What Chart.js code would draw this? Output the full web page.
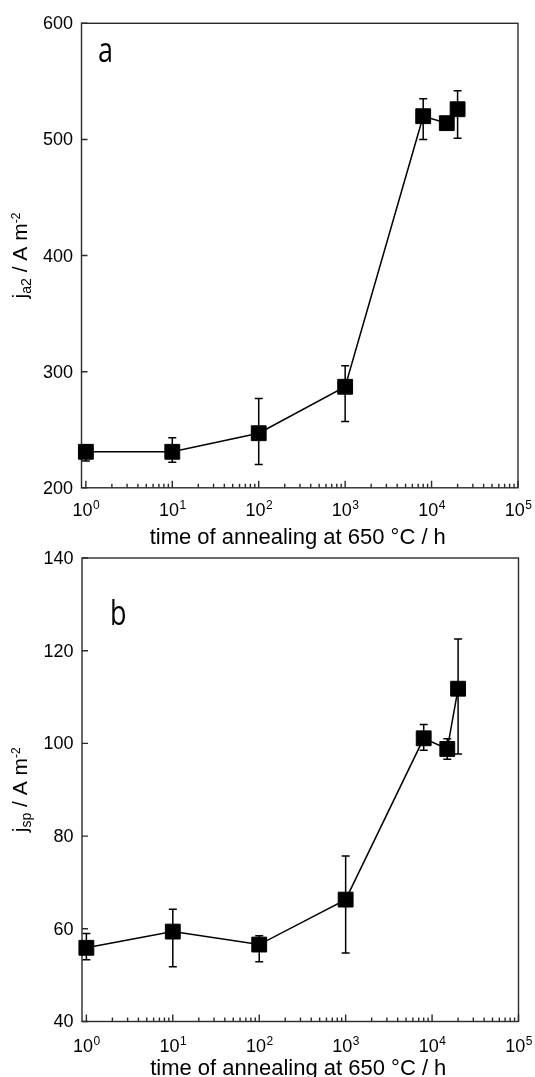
<!DOCTYPE html>
<html>
<head>
<meta charset="utf-8">
<script src="https://cdn.jsdelivr.net/npm/chart.js@4.4.1/dist/chart.umd.min.js"></script>
<style>
html,body{margin:0;padding:0;background:#fff;width:535px;height:1077px;overflow:hidden;}
#w1{position:absolute;left:0;top:0;width:535px;height:560px;}
#w2{position:absolute;left:0;top:537px;width:535px;height:540px;}
</style>
</head>
<body>
<div id="w1"><canvas id="c1"></canvas></div>
<div id="w2"><canvas id="c2"></canvas></div>
<script>
// ---- data ----
const annealTimes = [1, 10, 100, 1000, 8000, 15000, 20000];
const ja2Values   = [231, 231, 247, 287, 520, 514, 526];
const ja2ErrPlus  = [6, 12, 30, 18, 15, 0, 16];
const ja2ErrMinus = [8, 9, 27, 30, 20, 0, 25];
const jspValues   = [55.9, 59.4, 56.6, 66.3, 101.1, 98.8, 111.8];
const jspErrPlus  = [3.1, 4.8, 1.9, 9.4, 3.0, 2.2, 10.7];
const jspErrMinus = [2.6, 7.6, 3.7, 11.5, 2.6, 2.2, 14.1];
const xTickExponents = [0, 1, 2, 3, 4, 5];
const xMinorMultipliers = [2, 3, 4, 5, 6, 7, 8, 9];
const yTicksA = [200, 300, 400, 500, 600];
const yTicksB = [40, 60, 80, 100, 120, 140];
const xAxisTitle = 'time of annealing at 650 °C / h';

const SANS = '"Liberation Sans", Arial, sans-serif';

const errorBars = {
  id: 'errorBars',
  beforeDatasetsDraw(chart, args, opts) {
    const ctx = chart.ctx, xs = chart.scales.x, ys = chart.scales.y;
    ctx.save();
    ctx.strokeStyle = '#000';
    ctx.lineWidth = 1.5;
    opts.values.forEach((v, i) => {
      const up = opts.plus[i], dn = opts.minus[i];
      if (!up && !dn) return;
      const x = xs.getPixelForValue(opts.x[i]);
      const y1 = ys.getPixelForValue(v + up), y2 = ys.getPixelForValue(v - dn);
      ctx.beginPath();
      ctx.moveTo(x, y1); ctx.lineTo(x, y2);
      ctx.moveTo(x - 4, y1); ctx.lineTo(x + 4, y1);
      ctx.moveTo(x - 4, y2); ctx.lineTo(x + 4, y2);
      ctx.stroke();
    });
    ctx.restore();
  }
};

const sciAxes = {
  id: 'sciAxes',
  beforeDatasetsDraw(chart, args, o) {
    const ctx = chart.ctx, xs = chart.scales.x, ys = chart.scales.y;
    const a = chart.chartArea;
    ctx.save();
    ctx.strokeStyle = '#2a2a2a';
    ctx.lineWidth = 1.4;
    ctx.strokeRect(a.left, a.top, a.right - a.left, a.bottom - a.top);
    // x ticks (inside)
    ctx.beginPath();
    xTickExponents.forEach((e, k) => {
      const x = xs.getPixelForValue(Math.pow(10, e));
      ctx.moveTo(x, a.bottom); ctx.lineTo(x, a.bottom - 7);
      if (k < xTickExponents.length - 1) {
        xMinorMultipliers.forEach(m => {
          const xm = xs.getPixelForValue(m * Math.pow(10, e));
          ctx.moveTo(xm, a.bottom); ctx.lineTo(xm, a.bottom - 4);
        });
      }
    });
    // y ticks (inside)
    o.yTicks.forEach(v => {
      const y = ys.getPixelForValue(v);
      ctx.moveTo(a.left, y); ctx.lineTo(a.left + 6, y);
    });
    ctx.stroke();

    ctx.fillStyle = '#000';
    // y tick labels
    ctx.font = '18px ' + SANS;
    ctx.textAlign = 'right';
    ctx.textBaseline = 'middle';
    o.yTicks.forEach(v => {
      ctx.fillText(String(v), a.left - 8.5, ys.getPixelForValue(v) + 1);
    });
    // x tick labels 10^n
    ctx.textAlign = 'left';
    ctx.textBaseline = 'alphabetic';
    xTickExponents.forEach(e => {
      const x = xs.getPixelForValue(Math.pow(10, e));
      ctx.font = '18px ' + SANS;
      const w1 = ctx.measureText('10').width;
      ctx.font = '12px ' + SANS;
      const w2 = ctx.measureText(String(e)).width;
      const x0 = x - (w1 + w2) / 2;
      const yb = a.bottom + o.xLabelOffset;
      ctx.font = '18px ' + SANS;
      ctx.fillText('10', x0, yb);
      ctx.font = '12px ' + SANS;
      ctx.fillText(String(e), x0 + w1 + 0.5, yb - 7);
    });
    // x title
    ctx.font = '22px ' + SANS;
    ctx.textAlign = 'center';
    ctx.fillText(xAxisTitle, (a.left + a.right) / 2 - 2, a.bottom + o.xTitleOffset);

    // y title with sub/superscripts
    const cy = (a.top + a.bottom) / 2;
    ctx.save();
    ctx.translate(26.5, cy);
    ctx.rotate(-Math.PI / 2);
    ctx.textAlign = 'left';
    const parts = [
      {t: 'j', f: '21px ' + SANS, dy: 0},
      {t: o.ySub, f: '14px ' + SANS, dy: 4},
      {t: ' / A m', f: '21px ' + SANS, dy: 0},
      {t: '-2', f: '12px ' + SANS, dy: -7}
    ];
    let total = 0;
    parts.forEach(p => { ctx.font = p.f; p.w = ctx.measureText(p.t).width; total += p.w; });
    let px = -total / 2;
    parts.forEach(p => { ctx.font = p.f; ctx.fillText(p.t, px, p.dy); px += p.w; });
    ctx.restore();

    // panel letter
    ctx.save();
    ctx.translate(o.letterX, o.letterY);
    ctx.scale(1, 1.28);
    ctx.font = '27px "Open Sans", sans-serif';
    ctx.textAlign = 'left';
    ctx.fillText(o.letter, 0, 0);
    ctx.restore();

    ctx.restore();
  }
};

function makeChart(id, values, plus, minus, yMin, yMax, pad, extra) {
  return new Chart(document.getElementById(id), {
    type: 'line',
    data: {
      datasets: [{
        data: annealTimes.map((t, i) => ({x: t, y: values[i]})),
        borderColor: '#000',
        backgroundColor: '#000',
        borderWidth: 1.5,
        tension: 0,
        pointStyle: 'rect',
        pointRadius: 10.5,
        pointBorderWidth: 1,
        pointBackgroundColor: '#000',
        pointBorderColor: '#000',
        clip: false
      }]
    },
    options: {
      responsive: true,
      maintainAspectRatio: false,
      animation: false,
      events: [],
      layout: {padding: pad},
      scales: {
        x: {type: 'logarithmic', min: 0.89, max: 100000, display: false},
        y: {type: 'linear', min: yMin, max: yMax, display: false}
      },
      plugins: {
        legend: {display: false},
        tooltip: {enabled: false},
        errorBars: {x: annealTimes, values: values, plus: plus, minus: minus},
        sciAxes: extra
      }
    },
    plugins: [errorBars, sciAxes]
  });
}

makeChart('c1', ja2Values, ja2ErrPlus, ja2ErrMinus, 200, 600,
  {left: 81.5, right: 17, top: 23.3, bottom: 72.2},
  {yTicks: yTicksA, ySub: 'a2', letter: 'a', letterX: 98, letterY: 62, xLabelOffset: 28, xTitleOffset: 56});

makeChart('c2', jspValues, jspErrPlus, jspErrMinus, 40, 140,
  {left: 82, right: 16.5, top: 21, bottom: 55.5},
  {yTicks: yTicksB, ySub: 'sp', letter: 'b', letterX: 110, letterY: 88, xLabelOffset: 30, xTitleOffset: 53.5});
</script>
</body>
</html>
